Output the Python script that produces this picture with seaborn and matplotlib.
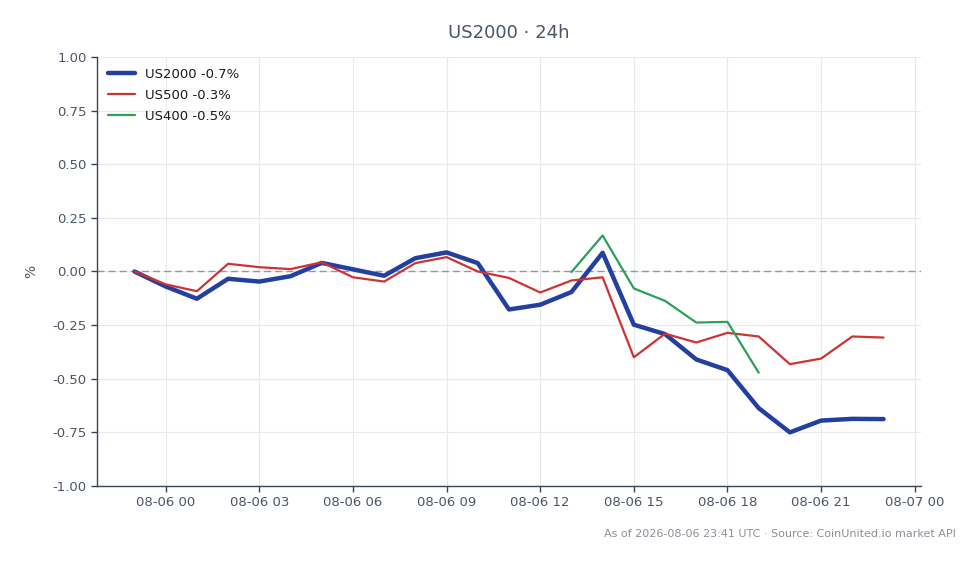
import matplotlib
matplotlib.use("Agg")
import matplotlib.pyplot as plt
import matplotlib.dates as mdates
import seaborn as sns
import pandas as pd
import numpy as np

hours = pd.date_range("2026-08-05 23:00", "2026-08-06 23:00", freq="h")

us2000 = [0.00, -0.07, -0.127, -0.034, -0.047, -0.022, 0.040, 0.010, -0.020,
          0.062, 0.089, 0.039, -0.177, -0.155, -0.096, 0.087, -0.248, -0.292,
          -0.410, -0.460, -0.637, -0.750, -0.695, -0.687, -0.688]
us500 = [0.00, -0.06, -0.092, 0.036, 0.020, 0.011, 0.043, -0.027, -0.047,
         0.039, 0.067, 0.000, -0.030, -0.098, -0.042, -0.027, -0.400, -0.290,
         -0.331, -0.286, -0.303, -0.432, -0.406, -0.303, -0.308]
us400 = [np.nan] * 14 + [-0.003, 0.168, -0.079, -0.137, -0.238, -0.235, -0.472,
                         np.nan, np.nan, np.nan, np.nan]

labels = ["US2000 -0.7%", "US500 -0.3%", "US400 -0.5%"]
colors = ["#2340a0", "#cc3333", "#2ca05a"]
widths = [3.2, 1.6, 1.6]

sns.set_theme(style="white")
plt.rcParams["font.family"] = ["DejaVu Sans"]

fig = plt.figure(figsize=(9.78, 5.64), dpi=100)
ax = fig.add_axes([0.0992, 0.1383, 0.8425, 0.7607])

for vals, lab, col, lw in zip([us2000, us500, us400], labels, colors, widths):
    df = pd.DataFrame({"time": hours, "value": vals}).dropna()
    sns.lineplot(data=df, x="time", y="value", ax=ax, color=col, linewidth=lw, label=lab)

ax.axhline(0, color="#8a99ad", linestyle=(0, (5, 3)), linewidth=1.0, zorder=1)

ax.set_ylim(-1.0, 1.0)
ax.set_yticks([-1.0, -0.75, -0.5, -0.25, 0.0, 0.25, 0.5, 0.75, 1.0])
ax.yaxis.set_major_formatter(matplotlib.ticker.FormatStrFormatter("%.2f"))
ax.xaxis.set_major_locator(mdates.HourLocator(byhour=[0, 3, 6, 9, 12, 15, 18, 21]))
ax.xaxis.set_major_formatter(mdates.DateFormatter("%m-%d %H"))
ax.margins(x=0.05)

ax.grid(True, color="#e6e9ee", linewidth=0.8)
ax.set_axisbelow(True)
for s in ["top", "right"]:
    ax.spines[s].set_visible(False)
for s in ["left", "bottom"]:
    ax.spines[s].set_color("#3a4656")
    ax.spines[s].set_linewidth(1.0)
ax.tick_params(axis="both", colors="#3a4656", labelcolor="#4a5566", labelsize=9.5,
               length=4, width=1, left=True, bottom=True)

ax.set_xlabel("")
ax.set_ylabel("%", color="#4a5566", fontsize=10, labelpad=10)
ax.set_title("US2000 · 24h", color="#4a5566", fontsize=13, pad=14)

leg = ax.legend(loc="upper left", frameon=False, fontsize=9.5, handlelength=2.1,
                handletextpad=0.7, borderaxespad=0.5, borderpad=0.3,
                labelspacing=0.62)
for t in leg.get_texts():
    t.set_color("#1a1a1a")

fig.text(0.977, 0.054, "As of 2026-08-06 23:41 UTC · Source: CoinUnited.io market API",
         ha="right", va="center", fontsize=8, color="#8a8f98")

fig.savefig("out.png", dpi=100)
